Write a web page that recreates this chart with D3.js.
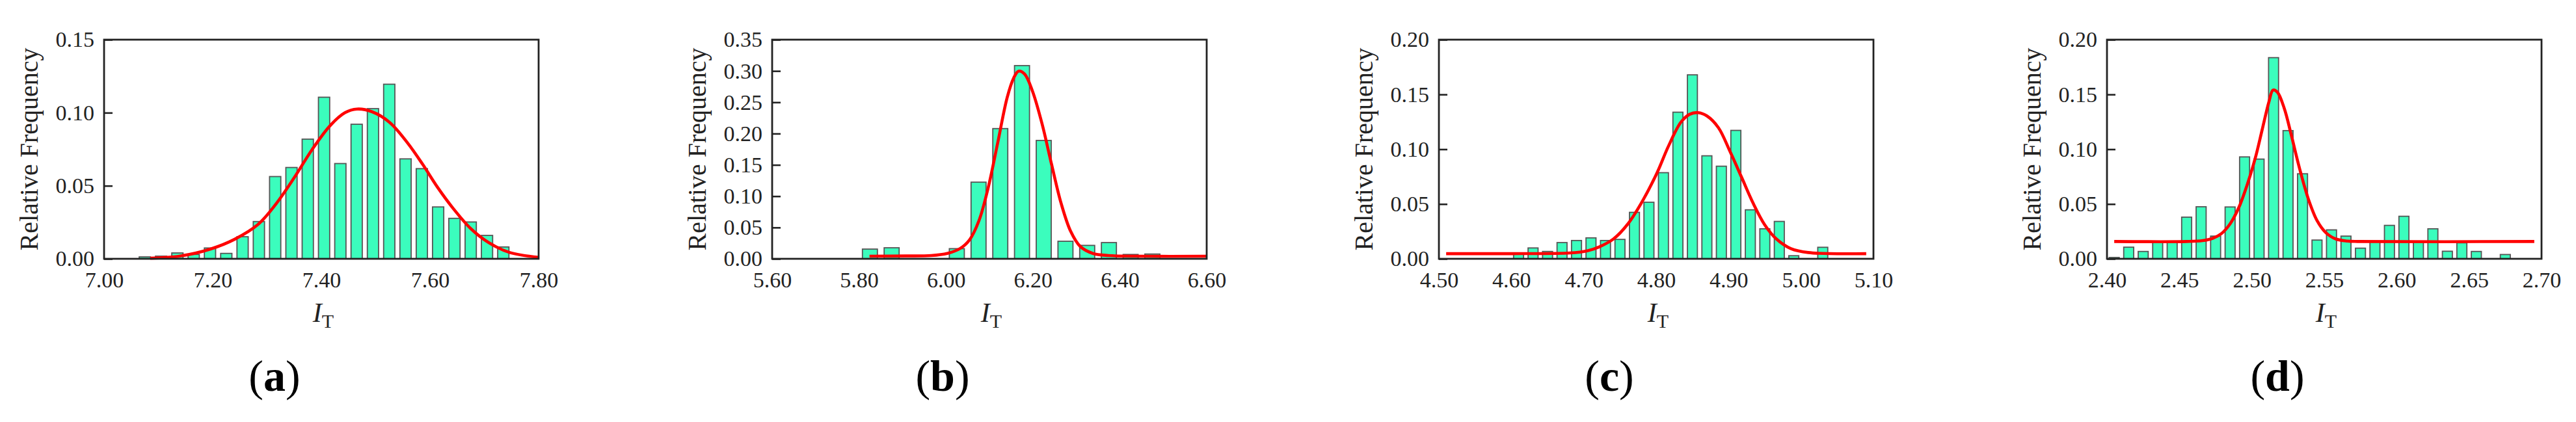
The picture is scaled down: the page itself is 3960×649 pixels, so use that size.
<!DOCTYPE html>
<html>
<head>
<meta charset="utf-8">
<script src="https://cdn.jsdelivr.net/npm/d3@7"></script>
<style>
  body { margin: 0; background: #fff; }
  svg { display: block; }
</style>
</head>
<body>
<svg id="fig" width="3960" height="649"></svg>
<script>
// ---- donnees ----
const panelLabels = ["a", "b", "c", "d"];

const xDomainA = [7.00, 7.80], yDomainA = [0, 0.15];
const xTicksA = [7.00, 7.20, 7.40, 7.60, 7.80];
const yTicksA = [0, 0.05, 0.10, 0.15];
const binWidthA = 0.03;
const centersA = [7.075, 7.105, 7.135, 7.165, 7.195, 7.225, 7.255, 7.285, 7.315, 7.345, 7.375, 7.405,
  7.435, 7.465, 7.495, 7.525, 7.555, 7.585, 7.615, 7.645, 7.675, 7.705, 7.735];
const freqA = [0.0013, 0.0018, 0.004, 0.003, 0.0074, 0.0037, 0.0151, 0.0255, 0.0563, 0.0625, 0.0819, 0.1106,
  0.0652, 0.0921, 0.1028, 0.1195, 0.0684, 0.0617, 0.0355, 0.0277, 0.0252, 0.016, 0.0081];
const fitXA = [7.085, 7.14, 7.196, 7.24, 7.284, 7.317, 7.35, 7.383, 7.416, 7.4435, 7.4656, 7.493, 7.526,
  7.559, 7.587, 7.614, 7.642, 7.675, 7.708, 7.746, 7.80];
const fitYA = [0.0004, 0.0019, 0.0067, 0.0133, 0.0237, 0.0378, 0.0555, 0.0748, 0.0911, 0.1, 0.1025, 0.1007,
  0.0933, 0.0792, 0.0644, 0.0489, 0.0348, 0.0207, 0.0111, 0.0044, 0.001];

const xDomainB = [5.60, 6.60], yDomainB = [0, 0.35];
const xTicksB = [5.60, 5.80, 6.00, 6.20, 6.40, 6.60];
const yTicksB = [0, 0.05, 0.10, 0.15, 0.20, 0.25, 0.30, 0.35];
const binWidthB = 0.05;
const centersB = [5.825, 5.875, 6.025, 6.075, 6.125, 6.175, 6.225, 6.275, 6.325, 6.375, 6.425, 6.475];
const freqB = [0.0155, 0.0176, 0.0162, 0.1224, 0.208, 0.3086, 0.189, 0.028, 0.0214, 0.0259, 0.0069, 0.0076];
const fitXB = [5.824, 5.908, 5.966, 6.003, 6.032, 6.054, 6.076, 6.097, 6.119, 6.141, 6.156, 6.167, 6.181,
  6.199, 6.221, 6.243, 6.265, 6.287, 6.309, 6.338, 6.374, 6.447, 6.60];
const fitYB = [0.0041, 0.0045, 0.0052, 0.0086, 0.0162, 0.030, 0.061, 0.113, 0.185, 0.258, 0.289, 0.2997, 0.295,
  0.268, 0.216, 0.151, 0.0886, 0.0438, 0.0197, 0.0086, 0.0052, 0.0041, 0.0041];

const xDomainC = [4.50, 5.10], yDomainC = [0, 0.20];
const xTicksC = [4.50, 4.60, 4.70, 4.80, 4.90, 5.00, 5.10];
const yTicksC = [0, 0.05, 0.10, 0.15, 0.20];
const binWidthC = 0.02;
const centersC = [4.61, 4.63, 4.65, 4.67, 4.69, 4.71, 4.73, 4.75, 4.77, 4.79, 4.81, 4.83, 4.85, 4.87,
  4.89, 4.91, 4.93, 4.95, 4.97, 4.99, 5.03];
const freqC = [0.005, 0.0099, 0.0067, 0.0148, 0.0167, 0.0191, 0.0167, 0.0177, 0.0424, 0.0516, 0.0786, 0.1338,
  0.1679, 0.094, 0.0845, 0.1172, 0.0447, 0.0274, 0.0341, 0.0028, 0.0105];
const fitXC = [4.51, 4.60, 4.681, 4.705, 4.721, 4.741, 4.761, 4.781, 4.801, 4.817, 4.834, 4.846, 4.858,
  4.870, 4.886, 4.902, 4.918, 4.934, 4.950, 4.966, 4.986, 5.010, 5.090];
const fitYC = [0.0047, 0.0047, 0.0053, 0.0073, 0.0108, 0.0181, 0.0319, 0.0526, 0.0782, 0.1029, 0.1245, 0.1318,
  0.1334, 0.1304, 0.1196, 0.0979, 0.0743, 0.0506, 0.0309, 0.0181, 0.0093, 0.0057, 0.0047];

const xDomainD = [2.40, 2.70], yDomainD = [0, 0.20];
const xTicksD = [2.40, 2.45, 2.50, 2.55, 2.60, 2.65, 2.70];
const yTicksD = [0, 0.05, 0.10, 0.15, 0.20];
const binWidthD = 0.01;
const centersD = [2.405, 2.415, 2.425, 2.435, 2.445, 2.455, 2.465, 2.475, 2.485, 2.495, 2.505, 2.515, 2.525,
  2.535, 2.545, 2.555, 2.565, 2.575, 2.585, 2.595, 2.605, 2.615, 2.625, 2.635, 2.645, 2.655, 2.675];
const freqD = [0.0012, 0.0106, 0.0067, 0.0152, 0.0155, 0.038, 0.0475, 0.0207, 0.0473, 0.093, 0.091, 0.1836, 0.117,
  0.0776, 0.0171, 0.0264, 0.0207, 0.0097, 0.0155, 0.0305, 0.0388, 0.0155, 0.0274, 0.0069, 0.0146, 0.0067, 0.0039];
const fitXD = [2.405, 2.455, 2.466, 2.473, 2.479, 2.485, 2.491, 2.4965, 2.5024, 2.5071, 2.5118, 2.5146, 2.5176,
  2.5224, 2.5271, 2.533, 2.539, 2.545, 2.551, 2.558, 2.566, 2.573, 2.695];
const fitYD = [0.0158, 0.0158, 0.0166, 0.0187, 0.023, 0.0319, 0.0467, 0.0664, 0.092, 0.1176, 0.1432, 0.154, 0.1521,
  0.1373, 0.1137, 0.0822, 0.0546, 0.0349, 0.024, 0.0181, 0.0162, 0.0158, 0.0158];

const panels = [
  { xd: xDomainA, yd: yDomainA, xt: xTicksA, yt: yTicksA, bw: binWidthA, c: centersA, f: freqA, fx: fitXA, fy: fitYA },
  { xd: xDomainB, yd: yDomainB, xt: xTicksB, yt: yTicksB, bw: binWidthB, c: centersB, f: freqB, fx: fitXB, fy: fitYB },
  { xd: xDomainC, yd: yDomainC, xt: xTicksC, yt: yTicksC, bw: binWidthC, c: centersC, f: freqC, fx: fitXC, fy: fitYC },
  { xd: xDomainD, yd: yDomainD, xt: xTicksD, yt: yTicksD, bw: binWidthD, c: centersD, f: freqD, fx: fitXD, fy: fitYD }
];

// ---- mise en page ----
let gauches = [160, 1187, 2212, 3239];
let largeur = 668;
let haut = 61, bas = 398;
let police = "'Liberation Serif', 'Times New Roman', serif";

let svg = d3.select("#fig");

panels.forEach(function (p, i) {
  let g = svg.append("g").attr("transform", `translate(${gauches[i]},0)`);

  let x = d3.scaleLinear().domain(p.xd).range([0, largeur]);
  let y = d3.scaleLinear().domain(p.yd).range([bas, haut]);

  // barres
  g.selectAll(".barre")
    .data(p.c.map((c, k) => ({ c: c, f: p.f[k] })))
    .join("rect")
    .attr("class", "barre")
    .attr("x", d => x(d.c - p.bw * 0.345))
    .attr("width", x(p.xd[0] + p.bw * 0.69) - x(p.xd[0]))
    .attr("y", d => y(d.f))
    .attr("height", d => y(0) - y(d.f))
    .attr("fill", "#3bfdbd")
    .attr("stroke", "#555")
    .attr("stroke-width", 1.8);

  // courbe ajustee
  let ligne = d3.line()
    .x((d, k) => x(p.fx[k]))
    .y((d, k) => y(p.fy[k]))
    .curve(d3.curveCatmullRom.alpha(0.5));

  g.append("path")
    .datum(p.fx)
    .attr("d", ligne)
    .attr("fill", "none")
    .attr("stroke", "#ff0000")
    .attr("stroke-width", 4.6);

  // cadre
  g.append("rect")
    .attr("x", 0).attr("y", haut)
    .attr("width", largeur).attr("height", bas - haut)
    .attr("fill", "none")
    .attr("stroke", "#222")
    .attr("stroke-width", 2.8);

  // axe Y (tirets vers l'interieur)
  let axeY = g.append("g")
    .call(d3.axisLeft(y).tickValues(p.yt).tickFormat(d3.format(".2f")).tickSize(-13).tickPadding(15));
  axeY.select(".domain").remove();
  axeY.selectAll("line").attr("stroke", "#222").attr("stroke-width", 2.6);
  axeY.selectAll("text").attr("font-family", police).attr("font-size", 34).attr("fill", "#222");

  // axe X
  let axeX = g.append("g")
    .attr("transform", `translate(0,${bas})`)
    .call(d3.axisBottom(x).tickValues(p.xt).tickFormat(d3.format(".2f")).tickSize(0).tickPadding(20));
  axeX.select(".domain").remove();
  axeX.selectAll("text").attr("font-family", police).attr("font-size", 34).attr("fill", "#222");

  // titre Y
  g.append("text")
    .attr("transform", `translate(-102,${(haut + bas) / 2}) rotate(-90)`)
    .attr("text-anchor", "middle")
    .attr("font-family", police)
    .attr("font-size", 40)
    .attr("fill", "#222")
    .text("Relative Frequency");

  // titre X : I_T
  let titreX = g.append("text")
    .attr("x", largeur / 2 + 3)
    .attr("y", 495)
    .attr("text-anchor", "middle")
    .attr("font-family", police)
    .attr("fill", "#222");
  titreX.append("tspan").attr("font-style", "italic").attr("font-size", 42).text("I");
  titreX.append("tspan").attr("font-size", 30).attr("dy", 9).text("T");

  // lettre du panneau
  let lettre = g.append("text")
    .attr("x", 262)
    .attr("y", 601)
    .attr("text-anchor", "middle")
    .attr("font-family", police)
    .attr("font-size", 68)
    .attr("fill", "#000");
  lettre.append("tspan").text("(");
  lettre.append("tspan").attr("font-weight", "bold").text(panelLabels[i]);
  lettre.append("tspan").text(")");
});
</script>
</body>
</html>
